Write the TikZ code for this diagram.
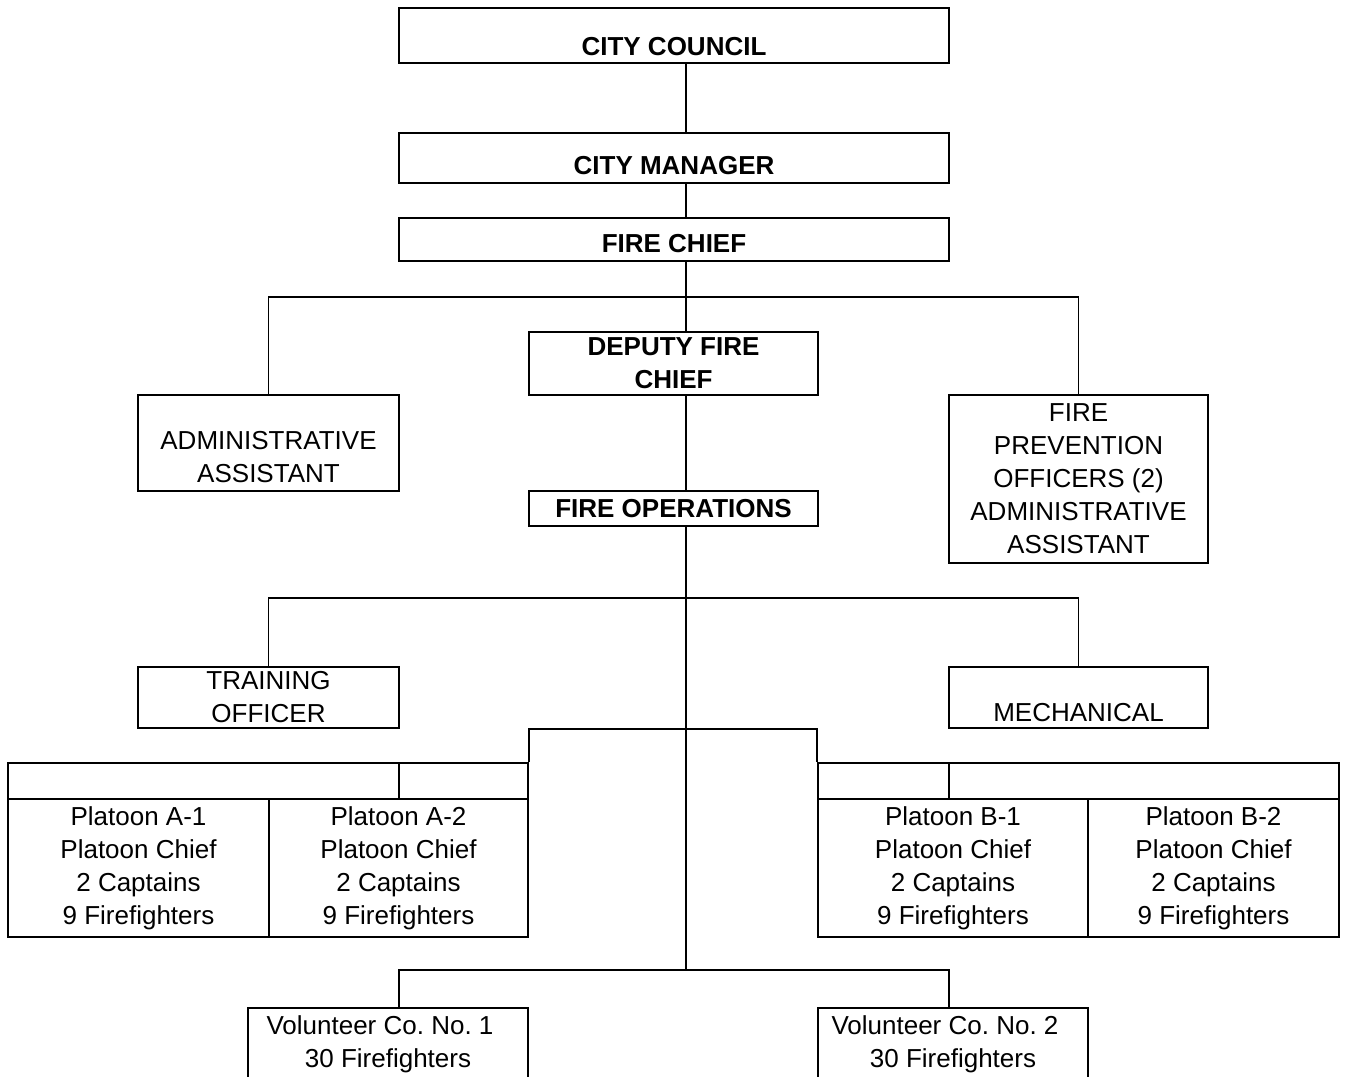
\documentclass[tikz,border=0pt]{standalone}
\usepackage{fontspec}
\setmainfont{Liberation Sans}
\frenchspacing

\newcommand{\chartsize}{\fontsize{14.8}{18.8}\selectfont}

\begin{document}
\begin{tikzpicture}[
    x=0.02cm, y=-0.02cm,
    line width=1.1pt,
    box/.style={draw, inner sep=0pt, align=center, font=\chartsize},
    bold/.style={font=\chartsize\bfseries, align=center},
    plain/.style={font=\chartsize, align=center}
]
\useasboundingbox (0,0) rectangle (1345,1076);

% Top boxes
\node[box, minimum width=11cm, minimum height=1.1cm] (council) at (674,35.5) {};
\node[bold] (councilTxt) at (674,47) {CITY COUNCIL};
\node[box, minimum width=11cm, minimum height=1cm] (manager) at (674,158) {};
\node[bold] (managerTxt) at (674,166) {CITY MANAGER};
\node[box, minimum width=11cm, minimum height=0.86cm] (chief) at (674,239.5) {};
\node[bold] (chiefTxt) at (674,244) {FIRE CHIEF};

% Second level
\node[box, bold, minimum width=5.78cm, minimum height=1.26cm] (deputy) at (673.5,363.5) {DEPUTY FIRE\\CHIEF};
\node[box, minimum width=5.22cm, minimum height=1.92cm] (admin) at (268.5,443) {};
\node[plain] (adminTxt) at (268.5,457.5) {ADMINISTRATIVE\\ASSISTANT};
\node[box, minimum width=5.18cm, minimum height=3.36cm] (prevent) at (1078.5,479) {FIRE\\PREVENTION\\OFFICERS (2)\\ADMINISTRATIVE\\ASSISTANT};
\node[box, bold, minimum width=5.78cm, minimum height=0.7cm] (fireops) at (673.5,508.5) {FIRE OPERATIONS};

% Third level
\node[box, minimum width=5.22cm, minimum height=1.22cm] (training) at (268.5,697.5) {TRAINING\\OFFICER};
\node[box, minimum width=5.18cm, minimum height=1.22cm] (mech) at (1078.5,697.5) {};
\node[plain] (mechTxt) at (1078.5,713) {MECHANICAL};

% Platoons
\node[box, minimum width=10.4cm, minimum height=0.72cm] (headA) at (268,781) {};
\node[box, minimum width=10.42cm, minimum height=0.72cm] (headB) at (1078.5,781) {};
\node[box, minimum width=5.22cm, minimum height=2.76cm] (platA1) at (138.5,868) {Platoon A-1\\Platoon Chief\\2 Captains\\9 Firefighters};
\node[box, minimum width=5.18cm, minimum height=2.76cm] (platA2) at (398.5,868) {Platoon A-2\\Platoon Chief\\2 Captains\\9 Firefighters};
\node[box, minimum width=5.4cm, minimum height=2.76cm] (platB1) at (953,868) {Platoon B-1\\Platoon Chief\\2 Captains\\9 Firefighters};
\node[box, minimum width=5.02cm, minimum height=2.76cm] (platB2) at (1213.5,868) {Platoon B-2\\Platoon Chief\\2 Captains\\9 Firefighters};

% Volunteers
\node[box, minimum width=5.6cm, minimum height=1.44cm] (vol1) at (388,1044) {Volunteer Co. No. 1\hspace*{0.32cm}\\30 Firefighters};
\node[box, minimum width=5.4cm, minimum height=1.44cm] (vol2) at (953,1044) {Volunteer Co. No. 2\hspace*{0.32cm}\\30 Firefighters};

% Trunk and buses
\coordinate (trunk) at (686,0);
\coordinate (bus1) at (686,297);
\coordinate (bus2) at (686,598);
\coordinate (split) at (686,729);
\coordinate (volbus) at (686,970);
\coordinate (tabA) at (399,0);
\coordinate (tabB) at (949,0);

% Lines
\draw (council.south -| trunk) -- (manager.north -| trunk);
\draw (manager.south -| trunk) -- (chief.north -| trunk);
\draw (chief.south -| trunk) -- (deputy.north -| trunk);
\draw (admin.north) |- (bus1) -| (prevent.north);
\draw (deputy.south -| trunk) -- (fireops.north -| trunk);
\draw (fireops.south -| trunk) -- (volbus);
\draw (training.north) |- (bus2) -| (mech.north);
\draw (headA.north east) |- (split) -| (headB.north west);
\draw (headA.north -| tabA) -- (headA.south -| tabA);
\draw (headB.north -| tabB) -- (headB.south -| tabB);
\draw (vol1.north -| tabA) |- (volbus) -| (vol2.north -| tabB);

\end{tikzpicture}
\end{document}
